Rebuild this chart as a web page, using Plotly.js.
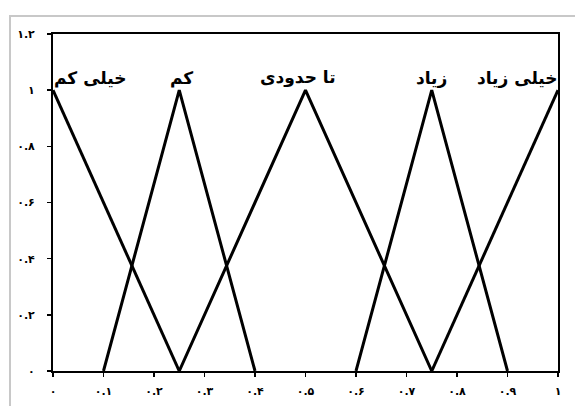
<!DOCTYPE html>
<html><head><meta charset="utf-8">
<script src="https://cdn.plot.ly/plotly-3.0.1.min.js"></script>
<style>
html,body{margin:0;padding:0;background:#fff;}
#frame{position:absolute;left:9px;top:15px;width:600px;height:420px;border-left:2px solid #c8c8c8;border-top:2px solid #c8c8c8;pointer-events:none;}
#chart{position:absolute;left:0;top:0;width:575px;height:406px;}
</style></head>
<body>
<div id="chart"></div>
<div id="frame"></div>
<script>
const seriesNames = ["خیلی کم","کم","تا حدودی","زیاد","خیلی زیاد"];
const seriesX = [[0,0.25],[0.1,0.25,0.4],[0.25,0.5,0.75],[0.6,0.75,0.9],[0.75,1]];
const seriesY = [[1,0],[0,1,0],[0,1,0],[0,1,0],[0,1]];
const labelX = [0.073,0.255,0.486,0.75,0.92];
const labelY = [1.045,1.045,1.045,1.045,1.045];
const xTickVals = [0,0.1,0.2,0.3,0.4,0.5,0.6,0.7,0.8,0.9,1];
const xTickText = ["۰","۰.۱","۰.۲","۰.۳","۰.۴","۰.۵","۰.۶","۰.۷","۰.۸","۰.۹","۱"];
const yTickVals = [0,0.2,0.4,0.6,0.8,1,1.2];
const yTickText = ["۰","۰.۲","۰.۴","۰.۶","۰.۸","۱","۱.۲"];

const traces = seriesNames.map((n,i)=>({
  x: seriesX[i], y: seriesY[i], type:'scatter', mode:'lines', name:n,
  line:{color:'#000', width:3}, hoverinfo:'skip'
}));
const annotations = seriesNames.map((n,i)=>({
  x: labelX[i], y: labelY[i], xref:'x', yref:'y', text:n, showarrow:false,
  font:{family:'DejaVu Sans', size:17, color:'#000', weight:'bold'}
}));
const layout = {
  width:575, height:406,
  margin:{l:53, r:17, t:34, b:35},
  paper_bgcolor:'#fff', plot_bgcolor:'#fff',
  showlegend:false,
  xaxis:{range:[0,1], tickvals:xTickVals, ticktext:xTickText, ticks:'outside', ticklen:4, tickwidth:1.5, tickcolor:'#000',
    showgrid:false, zeroline:false, showline:true, linecolor:'#000', linewidth:2, mirror:true,
    tickfont:{family:'DejaVu Sans', size:11, color:'#000', weight:'bold'}, ticklabelstandoff:5},
  yaxis:{range:[0,1.2], tickvals:yTickVals, ticktext:yTickText, ticks:'outside', ticklen:4, tickwidth:1.5, tickcolor:'#000',
    showgrid:false, zeroline:false, showline:true, linecolor:'#000', linewidth:2, mirror:true,
    tickfont:{family:'DejaVu Sans', size:11, color:'#000', weight:'bold'}, ticklabelstandoff:10},
  annotations: annotations
};
Plotly.newPlot('chart', traces, layout, {staticPlot:true, displayModeBar:false});
</script>
</body></html>
